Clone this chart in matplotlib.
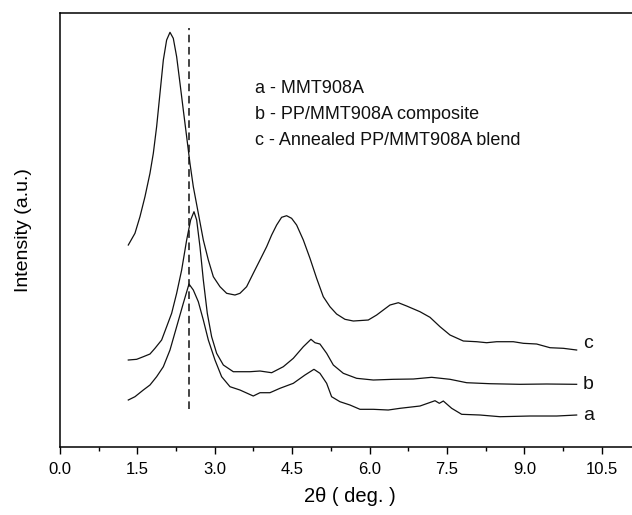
from matplotlib import pyplot as plt
from matplotlib.ticker import MultipleLocator

# curve a - MMT908A
a_x = [1.324, 1.453, 1.615, 1.744, 1.873, 2.003, 2.132, 2.261, 2.390, 2.500,
       2.584, 2.681, 2.778, 2.875, 3.004, 3.133, 3.295, 3.488, 3.746, 3.876,
       4.069, 4.263, 4.522, 4.748, 4.922, 5.038, 5.168, 5.264, 5.426, 5.620,
       5.814, 6.072, 6.362, 6.590, 6.977, 7.268, 7.352, 7.429, 7.591, 7.785,
       8.140, 8.528, 9.109, 9.626, 10.013]
a_y = [46.7, 50, 56.7, 61.7, 70, 80, 96.7, 120, 143.4, 162.7,
       156.7, 145, 126.7, 106.7, 86.7, 70, 60, 56.7, 50.7, 54,
       54, 58.4, 63.4, 71.7, 77.4, 73.4, 63.4, 50, 45, 41.7,
       37.4, 37.4, 36.7, 38.4, 40.7, 46, 43.4, 45.7, 38.4, 32.4,
       31.7, 30, 30.7, 30.7, 31.7]

# curve b - PP/MMT908A composite
b_x = [1.324, 1.486, 1.615, 1.744, 1.841, 1.970, 2.067, 2.164, 2.261, 2.358,
       2.455, 2.532, 2.597, 2.649, 2.713, 2.778, 2.855, 2.939, 3.036, 3.166,
       3.359, 3.682, 3.876, 4.102, 4.328, 4.522, 4.716, 4.864, 4.942, 5.038,
       5.168, 5.297, 5.491, 5.749, 6.072, 6.460, 6.848, 7.203, 7.559, 7.882,
       8.334, 8.915, 9.432, 10.013]
b_y = [86.7, 87.4, 90, 92.7, 98.4, 106.7, 120, 133.4, 153.4, 176.7,
       206.7, 226.7, 235, 226.7, 200, 166.7, 133.4, 110, 93.4, 81.7,
       75, 75, 75.7, 74, 80, 88.4, 100, 107.4, 104, 102.7,
       93.4, 81.7, 73.4, 68.4, 66.7, 67.4, 67.7, 69.4, 67.4, 64,
       63, 62.4, 62.7, 62.4]

# curve c - annealed blend
c_x = [1.324, 1.453, 1.550, 1.647, 1.744, 1.809, 1.873, 1.938, 2.003, 2.067,
       2.132, 2.196, 2.261, 2.326, 2.390, 2.455, 2.519, 2.584, 2.681, 2.778,
       2.875, 2.972, 3.101, 3.230, 3.391, 3.488, 3.617, 3.746, 3.876, 4.005,
       4.102, 4.199, 4.295, 4.392, 4.489, 4.586, 4.716, 4.845, 4.974, 5.103,
       5.232, 5.361, 5.523, 5.685, 5.975, 6.137, 6.266, 6.396, 6.557, 6.719,
       6.977, 7.171, 7.365, 7.559, 7.817, 8.076, 8.269, 8.463, 8.786, 8.980,
       9.238, 9.497, 9.755, 10.013]
c_y = [201.7, 213.4, 230, 250, 273.4, 293.4, 320, 353.4, 386.7, 406.7,
       414.4, 408.4, 390, 363.4, 336.7, 310, 283.4, 260, 233.4, 206.7,
       186.7, 170, 160, 153.4, 151.7, 153.4, 160, 173.4, 186.7, 200,
       211.7, 221.7, 229.4, 231, 228.4, 221.7, 206.7, 188.4, 168.4, 150,
       140, 132.7, 127.4, 125.7, 126.7, 131.7, 136.7, 141.7, 144, 140.7,
       135, 129.4, 120, 111.7, 105.7, 105, 104, 105, 105, 103.4,
       102.7, 99, 98.4, 96.7]

legend_lines = ['a - MMT908A', 'b - PP/MMT908A composite',
                'c - Annealed PP/MMT908A blend']
curve_tags = ['a', 'b', 'c']
tag_y = [31, 62.4, 103.4]
ref_x = 2.51

plt.rcParams['font.family'] = ['Liberation Sans', 'DejaVu Sans']

fig = plt.figure(figsize=(6.32, 5.15), dpi=100)
ax = fig.add_axes([0.0949, 0.1326, 0.9177, 0.8427])

col = '#111111'
for xs, ys in [(a_x, a_y), (b_x, b_y), (c_x, c_y)]:
    ax.plot(xs, ys, color=col, lw=0.9)

# dashed reference line
ax.plot([ref_x, ref_x], [37.7, 418.7], color=col, lw=1.1, dashes=(5, 3))

for tag, ty in zip(curve_tags, tag_y):
    ax.text(10.24, ty, tag, fontsize=14, ha='center', va='center', color=col)

for i, line in enumerate(legend_lines):
    ax.text(3.78, 358.7 - i * 26, line, fontsize=13, ha='left', va='center',
            color=col)

ax.set_xlim(0, 11.24)
ax.set_ylim(0, 434)
ax.xaxis.set_major_locator(MultipleLocator(1.5))
ax.xaxis.set_minor_locator(MultipleLocator(0.75))
ax.xaxis.set_major_formatter(plt.FormatStrFormatter('%.1f'))
ax.tick_params(axis='x', which='major', direction='out', length=5, width=1,
               labelsize=12, pad=6)
ax.tick_params(axis='x', which='minor', direction='out', length=3, width=1)
ax.set_yticks([])
ax.spines['right'].set_visible(False)
for s in ['left', 'bottom', 'top']:
    ax.spines[s].set_linewidth(1.1)

ax.set_xlabel('2θ ( deg. )', fontsize=14.5, labelpad=7)
ax.set_ylabel('Intensity (a.u.)', fontsize=14, labelpad=20)

fig.savefig('out.png', dpi=100)
